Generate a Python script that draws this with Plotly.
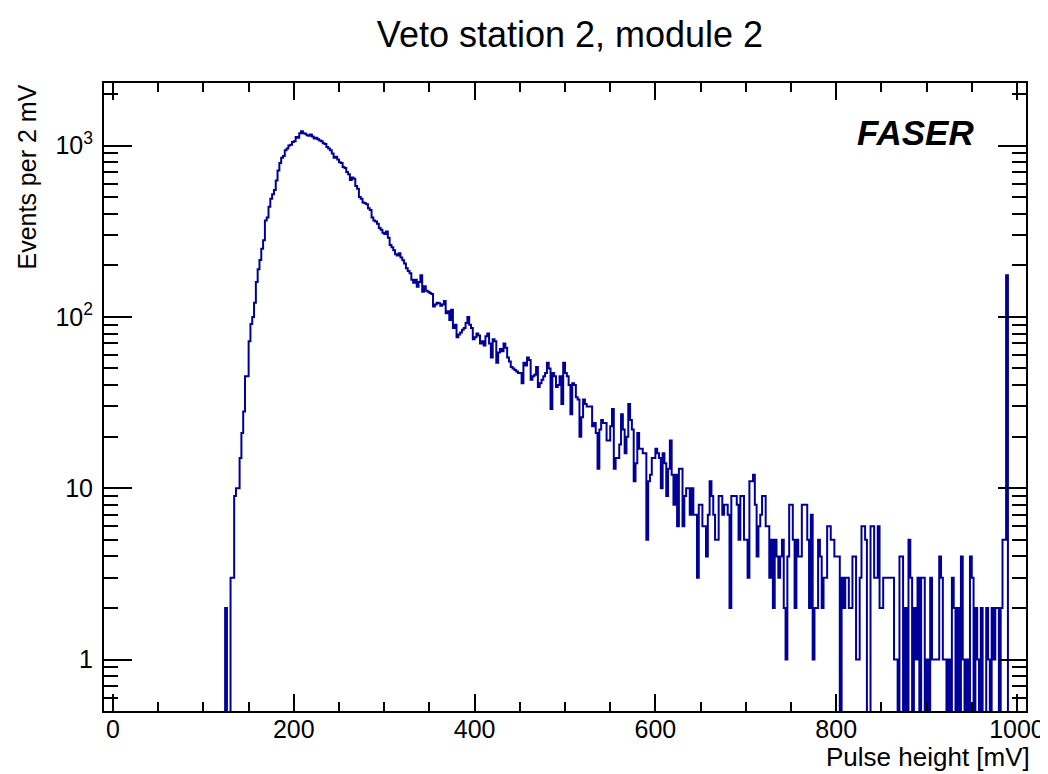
import plotly.graph_objects as go

# ---------------- data ----------------
bin_width_mV = 2
bin_low_mV = 0
# Events per 2 mV bin, bins 0..499 (0-1000 mV)
leading_zero_bins = 62
counts_rise = [2, 0, 0, 3, 3, 9, 10, 10, 15, 21, 28, 45, 45, 72, 91, 100]
counts_078 = [121, 160, 190, 215, 250, 280, 365, 380, 440, 490, 520, 550, 625, 716, 790, 850, 870, 940, 960, 1000, 1010, 1050]
counts_100 = [1060, 1120, 1110, 1180, 1210, 1180, 1170, 1150, 1140, 1160, 1130, 1100, 1110, 1090, 1070, 1060, 1030, 1020, 980, 960]
counts_120 = [940, 900, 850, 860, 830, 800, 790, 750, 740, 700, 680, 630, 650, 640, 580, 560, 500, 490, 465, 460]
counts_140 = [455, 430, 420, 380, 365, 360, 350, 330, 322, 310, 305, 315, 290, 263, 255, 245, 232, 228, 235, 222]
counts_160 = [214, 205, 192, 185, 180, 165, 158, 165, 150, 160, 175, 140, 151, 142, 140, 138, 136, 115, 118, 121]
counts_180 = [120, 116, 118, 124, 105, 108, 96, 110, 86, 90, 76, 79, 81, 84, 86, 92, 100, 90, 86, 74]
counts_200 = [76, 80, 78, 70, 72, 68, 77, 80, 70, 58, 74, 72, 54, 62, 65, 63, 70, 66, 58, 55]
counts_220 = [51, 50, 49, 48, 47, 47, 41, 54, 52, 58, 56, 43, 45, 46, 51, 39, 41, 43, 45, 47]
counts_240 = [54, 50, 29, 47, 45, 39, 40, 45, 31, 54, 47, 45, 40, 27, 41, 40, 34, 33, 20, 26]
counts_260 = [33, 31, 30, 30, 30, 23, 24, 21, 13, 22, 25, 24, 24, 19, 19, 23, 29, 13, 15, 15]
counts_280 = [18, 27, 22, 16, 20, 31, 25, 22, 11, 14, 21, 17, 17, 16, 16, 5, 11, 12, 15, 15]
counts_300 = [17, 16, 15, 10, 16, 14, 9, 13, 19, 12, 8, 12, 6, 13, 13, 6, 9, 10, 10, 7]
counts_320 = [10, 7, 7, 3, 8, 8, 6, 6, 4, 7, 11, 9, 7, 5, 5, 9, 9, 7, 8, 8]
counts_340 = [7, 2, 9, 9, 9, 8, 5, 9, 9, 5, 5, 3, 11, 11, 12, 8, 4, 6, 7, 9]
counts_360 = [9, 6, 6, 3, 5, 2, 5, 4, 3, 4, 5, 2, 1, 4, 8, 8, 5, 2, 5, 4]
counts_380 = [4, 8, 8, 8, 5, 2, 7, 1, 2, 2, 5, 4, 2, 3, 3, 6, 6, 5, 5, 4]
counts_400 = [4, 4, 0, 3, 2, 3, 3, 2, 2, 4, 4, 1, 1, 3, 6, 6, 5, 0, 0, 6]
counts_420 = [6, 3, 3, 6, 2, 2, 3, 3, 3, 3, 3, 3, 1, 1, 0, 4, 4, 0, 2, 0]
counts_440 = [5, 3, 0, 2, 1, 3, 0, 3, 3, 0, 1, 0, 3, 1, 1, 1, 1, 4, 3, 1]
counts_460 = [1, 0, 1, 0, 3, 2, 0, 2, 0, 4, 1, 0, 1, 0, 4, 3, 0, 2, 1, 0]
counts_480 = [2, 0, 0, 2, 1, 0, 2, 1, 2, 2, 0, 2, 5, 5, 175, 0, 0, 0, 0, 0]

counts = ([0] * leading_zero_bins + counts_rise + counts_078 + counts_100 + counts_120
          + counts_140 + counts_160 + counts_180 + counts_200 + counts_220 + counts_240
          + counts_260 + counts_280 + counts_300 + counts_320 + counts_340 + counts_360
          + counts_380 + counts_400 + counts_420 + counts_440 + counts_460 + counts_480)

x_tick_vals = [0, 200, 400, 600, 800, 1000]
y_tick_vals = [1, 10, 100, 1000]
y_tick_text = ["1", "10", "10<sup>2</sup>", "10<sup>3</sup>"]
y_minor_vals = [0.6, 0.7, 0.8, 0.9, 2, 3, 4, 5, 6, 7, 8, 9, 20, 30, 40, 50, 60, 70, 80, 90,
                200, 300, 400, 500, 600, 700, 800, 900, 2000]

title_text = "Veto station 2, module 2"
x_title = "Pulse height [mV]"
y_title = "Events per 2 mV"
label_text = "FASER"

# ---------------- build step outline ----------------
edges = [bin_low_mV + bin_width_mV * i for i in range(len(counts) + 1)]
floor = 1e-3  # empty bins drop below the visible log range
ys = [c if c > 0 else floor for c in counts]
xs = edges
ys = ys + [ys[-1]]

FONT = "Liberation Sans, Arial, Helvetica, sans-serif"
BLUE = "#000099"

# the page body has an 8 px margin, so the figure is sized/offset to compensate
W, H = 1040, 766
L, R, T, B = 96, 22, 75, 63
PW, PH = W - L - R, H - T - B
OFF = 8

def px_x(p):
    return (p - OFF - L) / PW

def px_y(p):
    return 1 - (p - OFF - T) / PH

fig = go.Figure()
fig.add_trace(go.Scatter(x=xs, y=ys, mode="lines", line=dict(color=BLUE, width=2, shape="hv"),
                         hoverinfo="skip", showlegend=False))

fig.update_layout(
    width=W, height=H,
    margin=dict(l=L, r=R, t=T, b=B, autoexpand=False),
    paper_bgcolor="white", plot_bgcolor="white",
    font=dict(family=FONT, color="black"),
    title=dict(text=title_text, x=(570 - OFF) / W, xref="container", xanchor="center",
               y=1 - (34 - OFF) / H, yref="container", yanchor="middle",
               font=dict(family=FONT, size=36, color="black")),
)

fig.update_xaxes(
    range=[-10, 1010], showgrid=False, zeroline=False, automargin=False,
    showline=True, linecolor="black", linewidth=2, mirror="ticks",
    ticks="inside", ticklen=17, tickwidth=1.5, tickcolor="black",
    tickvals=x_tick_vals, tickfont=dict(family=FONT, size=25, color="black"),
    ticklabelstandoff=-5,
    minor=dict(ticks="inside", ticklen=9, tickwidth=1.5, tickcolor="black", dtick=50, tick0=0, showgrid=False),
)
fig.update_yaxes(
    type="log", range=[-0.30, 3.365], showgrid=False, zeroline=False, automargin=False,
    showline=True, linecolor="black", linewidth=2, mirror="ticks",
    ticks="inside", ticklen=28, tickwidth=1.5, tickcolor="black",
    tickvals=y_tick_vals, ticktext=y_tick_text,
    tickfont=dict(family=FONT, size=25, color="black"),
    ticklabelstandoff=4,
    minor=dict(ticks="inside", ticklen=14, tickwidth=1.5, tickcolor="black",
               tickvals=y_minor_vals, showgrid=False),
)

fig.add_annotation(text=x_title, xref="paper", yref="paper", x=px_x(1032), y=px_y(757),
                   xanchor="right", yanchor="middle", showarrow=False,
                   font=dict(family=FONT, size=26, color="black"))
fig.add_annotation(text=y_title, xref="paper", yref="paper", x=px_x(26), y=1.0,
                   xanchor="center", yanchor="top", textangle=-90, showarrow=False,
                   font=dict(family=FONT, size=25, color="black"))
fig.add_annotation(text="<b><i>" + label_text + "</i></b>", xref="paper", yref="paper",
                   x=px_x(976), y=px_y(133), xanchor="right", yanchor="middle",
                   showarrow=False, font=dict(family=FONT, size=35, color="black"))

fig.write_html("out.html")
